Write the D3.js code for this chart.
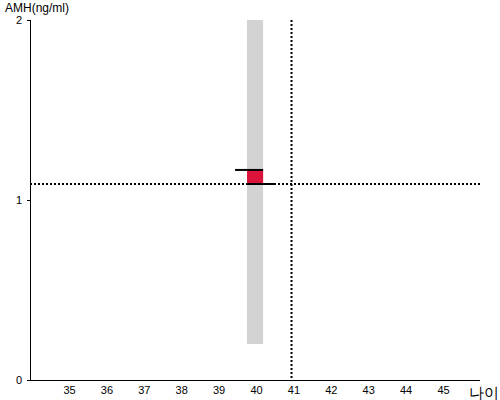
<!DOCTYPE html>
<html>
<head>
<meta charset="utf-8">
<script src="https://cdn.jsdelivr.net/npm/d3@7"></script>
<style>
  body { margin: 0; background: #fff; }
  svg { font-family: "Liberation Sans", Arial, sans-serif; }
</style>
</head>
<body>
<svg id="chart"></svg>
<script>
const width = 500;
const height = 400;

// data
const xDomain = [34, 46];
const yDomain = [0, 2];
const xTicks = [35, 36, 37, 38, 39, 40, 41, 42, 43, 44, 45];
const yTicks = [0, 1, 2];

// normal range band for the age group
const bandAge = [39.76, 40.19];
const bandRange = [0.2, 2.0];

// measured value box (previous -> current)
const prevValue = 1.167;
const currValue = 1.089;
const prevLine = [39.44, 40.19];
const currLine = [39.76, 40.51];

// reference lines
const refAge = 40.95;
const refAmh = 1.089;

const svg = d3.select("#chart")
  .attr("width", width)
  .attr("height", height);

const x = d3.scaleLinear().domain(xDomain).range([31.6, 480.4]);
const y = d3.scaleLinear().domain(yDomain).range([380, 20]);

/* ---------------------------
Band + box
--------------------------- */

svg.append("rect")
  .attr("x", x(bandAge[0]))
  .attr("width", x(bandAge[1]) - x(bandAge[0]))
  .attr("y", y(bandRange[1]))
  .attr("height", y(bandRange[0]) - y(bandRange[1]))
  .attr("fill", "#d3d3d3");

svg.append("rect")
  .attr("x", x(bandAge[0]))
  .attr("width", x(bandAge[1]) - x(bandAge[0]))
  .attr("y", y(prevValue))
  .attr("height", y(currValue) - y(prevValue))
  .attr("fill", "#dc143c");

/* ---------------------------
Reference lines
--------------------------- */

svg.append("line")
  .attr("x1", x(refAge)).attr("x2", x(refAge))
  .attr("y1", y(2)).attr("y2", y(0))
  .attr("stroke", "#000")
  .attr("stroke-width", 2)
  .attr("stroke-dasharray", "2,2");

svg.append("line")
  .attr("x1", 30).attr("x2", 480)
  .attr("y1", y(refAmh)).attr("y2", y(refAmh))
  .attr("stroke", "#000")
  .attr("stroke-width", 2)
  .attr("stroke-dasharray", "2,2");

svg.append("line")
  .attr("x1", x(prevLine[0])).attr("x2", x(prevLine[1]))
  .attr("y1", y(prevValue)).attr("y2", y(prevValue))
  .attr("stroke", "#000")
  .attr("stroke-width", 2);

svg.append("line")
  .attr("x1", x(currLine[0])).attr("x2", x(currLine[1]))
  .attr("y1", y(currValue)).attr("y2", y(currValue))
  .attr("stroke", "#000")
  .attr("stroke-width", 2);

/* ---------------------------
Axes
--------------------------- */

const xAxis = svg.append("g")
  .attr("transform", "translate(0,380)")
  .call(d3.axisBottom(x).tickValues(xTicks).tickSize(0).tickPadding(6));
xAxis.select(".domain").attr("d", "M30,0.5H480").attr("stroke", "#000");
xAxis.selectAll("text").attr("font-size", 11).attr("fill", "#000")
  .attr("font-family", "Liberation Sans, Arial, sans-serif");

const yAxis = svg.append("g")
  .attr("transform", "translate(30,0)")
  .call(d3.axisLeft(y).tickValues(yTicks).tickFormat(d3.format("d")).tickSize(3).tickPadding(5));
yAxis.select(".domain").attr("d", "M0.5,20V380").attr("stroke", "#000");
yAxis.selectAll("text").attr("font-size", 11).attr("fill", "#000")
  .attr("font-family", "Liberation Sans, Arial, sans-serif");

svg.append("text")
  .attr("x", 5)
  .attr("y", 12)
  .attr("font-size", 12)
  .text("AMH(ng/ml)");

svg.append("text")
  .attr("x", 499)
  .attr("y", 398)
  .attr("text-anchor", "end")
  .attr("font-size", 15)
  .text("나이");
</script>
</body>
</html>
